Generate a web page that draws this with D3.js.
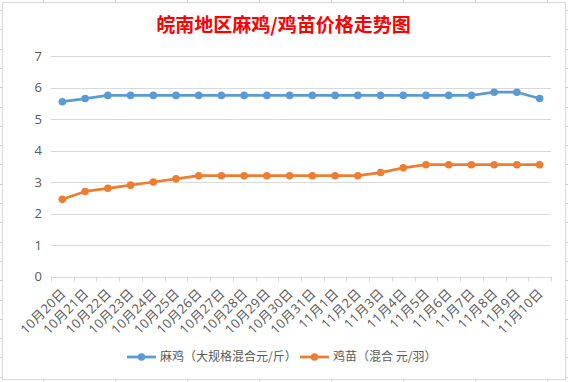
<!DOCTYPE html>
<html><head><meta charset="utf-8">
<script src="https://cdn.jsdelivr.net/npm/d3@7"></script>
<style>body{margin:0;background:#fff}svg{display:block}</style>
</head><body>
<script>
const categories = ["10月20日","10月21日","10月22日","10月23日","10月24日","10月25日","10月26日","10月27日","10月28日","10月29日","10月30日","10月31日","11月1日","11月2日","11月3日","11月4日","11月5日","11月6日","11月7日","11月8日","11月9日","11月10日"];
const adultChicken = [5.55,5.65,5.75,5.75,5.75,5.75,5.75,5.75,5.75,5.75,5.75,5.75,5.75,5.75,5.75,5.75,5.75,5.75,5.75,5.85,5.85,5.65];
const chicks = [2.45,2.7,2.8,2.9,3.0,3.1,3.2,3.2,3.2,3.2,3.2,3.2,3.2,3.2,3.3,3.45,3.55,3.55,3.55,3.55,3.55,3.55];
const seriesNames = ["麻鸡（大规格混合元/斤）","鸡苗（混合 元/羽）"];
const yTicks = [0,1,2,3,4,5,6,7];
const titleText = "皖南地区麻鸡/鸡苗价格走势图";

const W = 568, H = 382;
const colors = ["#5b9bd5","#ed7d31"];
const svg = d3.select("body").append("svg").attr("width",W).attr("height",H);
const latin = "'Open Sans','Noto Sans CJK SC',sans-serif";

// spreadsheet grid fragments outside the chart frame
const gridC = "#d4d4d4";
d3.range(43, W, 72).forEach(x=>{
  svg.append("line").attr("x1",x+0.5).attr("x2",x+0.5).attr("y1",0).attr("y2",3).attr("stroke",gridC);
  svg.append("line").attr("x1",x+0.5).attr("x2",x+0.5).attr("y1",379).attr("y2",H).attr("stroke",gridC);
});
d3.range(10, H, 19.3).forEach(y=>{
  const yy = Math.round(y)+0.5;
  svg.append("line").attr("x1",0).attr("x2",3).attr("y1",yy).attr("y2",yy).attr("stroke",gridC);
  svg.append("line").attr("x1",565).attr("x2",W).attr("y1",yy).attr("y2",yy).attr("stroke",gridC);
});
// chart frame
svg.append("rect").attr("x",2.5).attr("y",2.5).attr("width",563).attr("height",377)
  .attr("fill","#fff").attr("stroke","#d9d9d9");

// title
svg.append("text").attr("x",283.5).attr("y",32).attr("text-anchor","middle")
  .attr("fill","#ff0000").attr("font-weight","bold").attr("font-size","19px")
  .attr("font-family","'Noto Sans CJK SC',sans-serif").text(titleText);

const x = d3.scaleBand().domain(categories).range([51,551]);
const y = d3.scaleLinear().domain([0,7]).range([276.5,56]);

// gridlines
svg.append("g").selectAll("line").data(yTicks).join("line")
  .attr("x1",51).attr("x2",551)
  .attr("y1",d=>Math.round(y(d))+0.5).attr("y2",d=>Math.round(y(d))+0.5)
  .attr("stroke","#d9d9d9");

// y labels
svg.append("g").selectAll("text").data(yTicks).join("text")
  .attr("x",42).attr("y",d=>y(d)).attr("dy","0.35em").attr("text-anchor","end")
  .attr("fill","#595959").attr("font-size","13px").attr("font-family",latin).text(d=>d);

// x axis ticks
const bounds = categories.map(c=>x(c)).concat([551]);
svg.append("g").selectAll("line").data(bounds).join("line")
  .attr("x1",d=>Math.round(d)+0.5).attr("x2",d=>Math.round(d)+0.5)
  .attr("y1",276.5).attr("y2",281.5).attr("stroke","#d9d9d9");

// x labels
svg.append("g").selectAll("text").data(categories).join("text")
  .attr("transform",d=>`translate(${x(d)+x.bandwidth()/2+1},${291}) rotate(-45)`)
  .attr("text-anchor","end").attr("dy","0.35em")
  .attr("fill","#595959").attr("font-size","13px").attr("letter-spacing","0.3px")
  .attr("font-family",latin).text(d=>d);

// series
const cx = d=>x(d)+x.bandwidth()/2;
[adultChicken, chicks].forEach((vals,i)=>{
  const pts = categories.map((c,j)=>[cx(c), y(vals[j])]);
  svg.append("path").attr("d",d3.line()(pts)).attr("fill","none")
    .attr("stroke",colors[i]).attr("stroke-width",2.75).attr("stroke-linejoin","round").attr("stroke-linecap","round");
  svg.append("g").selectAll("circle").data(pts).join("circle")
    .attr("cx",d=>d[0]).attr("cy",d=>d[1]).attr("r",3.8).attr("fill",colors[i]);
});

// legend
const legX = [127, 300];
seriesNames.forEach((n,i)=>{
  const g = svg.append("g").attr("transform",`translate(${legX[i]},357)`);
  g.append("line").attr("x1",0).attr("x2",29).attr("y1",0).attr("y2",0)
    .attr("stroke",colors[i]).attr("stroke-width",2.75);
  g.append("circle").attr("cx",14.5).attr("cy",0).attr("r",3.8).attr("fill",colors[i]);
  g.append("text").attr("x",33).attr("y",0).attr("dy","0.35em")
    .attr("fill","#595959").attr("font-size","12px")
    .attr("font-family","'Noto Sans CJK SC',sans-serif").text(n);
});
</script>
</body></html>
